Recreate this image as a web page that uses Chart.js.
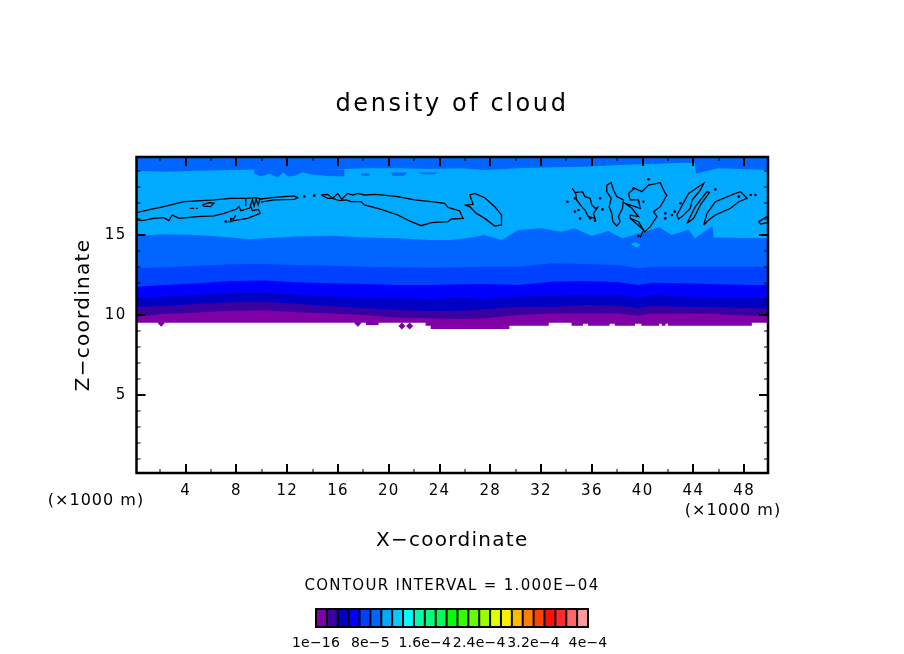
<!DOCTYPE html>
<html>
<head>
<meta charset="utf-8">
<style>
  html, body { margin: 0; background: #fff; }
  canvas { display: block; }
</style>
<script src="https://cdn.jsdelivr.net/npm/chart.js@4/dist/chart.umd.min.js"></script>
</head>
<body>
<canvas id="chart" width="904" height="654"></canvas>
<script>
// x ticks and z ticks (x1000 m)
const xTicks = [2,4,6,8,10,12,14,16,18,20,22,24,26,28,30,32,34,36,38,40,42,44,46,48];
const xLabelled = [4,8,12,16,20,24,28,32,36,40,44,48];
const zTicks = [1,2,3,4,5,6,7,8,9,10,11,12,13,14,15,16,17,18,19];
const zLabelled = [5,10,15];

// Band boundaries, km along x
const stationsKm = [0.125,2.3,4.9,7.6,10.2,12.8,15.5,18.1,20.7,23.3,25.7,27.5,30.2,32.8,35.4,38.1,39.7,40.7,43.3,46,48.6,49.875];
const purpleTop = [9.90,10.06,10.15,10.27,10.29,10.17,10.10,10.0,9.83,9.79,9.75,9.79,10.0,10.1,10.1,10.1,9.96,10.1,10.1,10.04,9.96,9.96];
const violetTop = [10.52,10.56,10.69,10.79,10.83,10.69,10.56,10.42,10.31,10.25,10.27,10.35,10.52,10.52,10.63,10.58,10.42,10.58,10.52,10.48,10.42,10.42];
const darkBlueTop = [11.04,11.15,11.25,11.40,11.42,11.25,11.15,11.04,11.04,11.0,11.1,11.0,11.15,11.21,11.25,11.25,11.04,11.25,11.15,11.08,11.08,11.04];
const blueTop = [11.77,11.88,11.98,12.12,12.15,12.04,11.98,11.94,11.88,11.88,11.92,11.94,11.88,12.08,12.12,12.04,11.88,12.02,11.98,11.92,11.88,11.88];
const midBlueTop = [12.92,12.98,13.08,13.17,13.19,13.13,13.08,13.02,12.98,12.96,12.98,13.02,13.02,13.23,13.19,13.13,12.92,13.02,13.02,13.02,13.02,13.02];

const azureLowX = [0.125,2.3,4.9,7.6,9,10.2,12.8,15.5,18.1,20.7,23.3,24.9,26.5,27.5,28.9,30.2,32,33.6,34.6,36,37.3,38.4,39.7,41.3,42.3,43.6,44.1,45.5,45.6,49.875];
const azureLowZ = [14.94,15.04,15.0,14.85,14.73,14.79,14.9,14.96,14.85,14.79,14.69,14.69,14.85,15.0,14.69,15.31,15.42,15.21,15.42,14.94,15.25,14.79,15.10,15.48,15.0,15.35,14.79,15.56,14.85,14.79];
const azureTopX = [0.125,2.3,4.9,7.6,10.2,12.8,15.5,18.1,20.7,23.3,25.7,27.5,30.2,32.8,35.4,38.1,40.7,43.3,44.1,44.2,46,49.875];
const azureTopZ = [19.02,18.96,19.02,19.06,19.1,19.1,19.1,19.17,19.17,19.12,19.17,19.06,19.17,19.23,19.27,19.37,19.44,19.52,19.48,18.85,19.17,19.06];

// Lower edge of the cloud, holds each value until the next x
const bottomX = [0.125,18.2,19.2,22.9,23.3,29.5,32.6,34.4,35.3,35.7,37.4,37.8,39.4,39.9,41.3,41.5,41.8,42.0,48.6,49.875];
const bottomZ = [9.52,9.37,9.52,9.33,9.12,9.33,9.52,9.33,9.45,9.33,9.45,9.33,9.45,9.33,9.45,9.33,9.45,9.33,9.52,9.52];
const strayPurple = [[2.07,9.48],[17.56,9.48],[21.03,9.31],[21.64,9.31]];

// Loose patches
const patchTopA = [[9.39,19.06],[10.18,19.17],[16.5,19.10],[16.5,18.65],[15.2,18.68],[13.87,18.78],[13.2,18.92],[12.6,18.7],[12.03,18.65],[11.7,18.9],[11.24,18.60],[10.6,18.85],[9.92,18.65],[9.39,18.85],[9.39,19.06]];
const patchTopB = [[17.82,18.85],[18.48,18.85],[18.48,18.7],[17.82,18.7],[17.82,18.85]];
const patchTopC = [[20.19,18.9],[21.5,18.9],[21.2,18.7],[20.3,18.7],[20.19,18.9]];
const patchTopD = [[22.3,18.9],[24.0,18.9],[23.6,18.8],[22.6,18.8],[22.3,18.9]];
const patchStreak = [[39.07,14.44],[39.41,14.56],[39.81,14.38],[39.54,14.21],[39.07,14.44]];

// Contour outlines, [km, z]
const lensTop = [[0.125,16.40],[1.23,16.60],[2.28,16.77],[3.86,17.08],[5.31,17.15],[6.23,17.19],[7.55,17.29],[8.73,17.29],[9.52,17.33],[9.92,17.25],[10.97,17.35],[12.55,17.44],[12.82,17.33],[12.55,17.23],[10.97,17.19],[9.92,17.06]];
const lensBottom = [[0.125,15.94],[0.57,15.90],[1.49,16.04],[2.28,16.08],[2.68,15.90],[2.94,16.25],[3.47,16.04],[4.92,16.15],[6.23,16.19],[7.02,16.35],[7.55,16.50],[7.95,16.60],[8.21,16.77],[8.34,16.52],[9,16.67],[9.13,16.77],[9.26,16.52],[9.74,16.60],[9.87,16.35],[8.87,16.04],[7.81,15.90],[7.50,15.83],[7.55,16.04],[7.76,15.98],[7.95,16.25]];
const spikeA = [[8.73,17.23],[8.73,16.81]];
const spikeB = [[9.08,16.81],[9.26,17.19],[9.39,16.81],[9.55,17.23],[9.71,16.88],[9.84,17.23]];
const loopSmall = [[5.31,16.88],[5.84,17.02],[6.23,16.98],[5.97,16.77],[5.44,16.81],[5.31,16.88]];
const dashA = [[4.34,16.67],[4.65,16.67]];
const dashB = [[4.79,16.67],[4.97,16.67]];
const lensRight = [[14.66,17.50],[15.19,17.54],[15.58,17.29],[15.98,17.60],[16.29,17.23],[16.76,17.60],[17.16,17.50],[17.56,17.60],[18.08,17.50],[19.0,17.54],[20.71,17.40],[22.03,17.19],[23.35,17.08],[24.40,16.98],[24.67,16.73],[25.59,16.50],[25.85,16.04],[24.93,16.0],[24.67,15.83],[23.35,15.77],[22.56,15.58],[21.77,15.83],[20.71,16.25],[19.40,16.60],[18.08,16.88],[17.82,17.08],[17.03,17.08],[16.63,17.19],[16.11,17.15],[15.58,17.29],[15.19,17.29],[14.66,17.50]];
const island = [[25.98,16.87],[26.64,16.92],[26.38,17.50],[26.77,17.60],[27.56,17.33],[28.35,16.77],[28.88,16.25],[28.88,15.63],[28.35,15.56],[27.56,16.04],[26.90,16.35],[26.38,16.77],[25.98,16.87]];
const clusterA = [[34.46,17.92],[34.67,17.65],[35.25,17.71],[35.46,17.40],[35.86,17.29],[35.99,16.88],[36.25,16.67],[36.46,16.73],[36.12,16.35],[36.25,16.04],[35.72,16.15],[35.46,16.56],[35.20,16.77],[34.80,17.19],[34.72,17.60],[34.46,17.92]];
const heartA = [[37.17,18.12],[37.52,18.27],[37.70,17.81],[37.96,17.40],[38.49,17.19],[38.41,16.67],[38.09,16.15],[38.23,15.83],[37.96,15.56],[37.65,15.83],[37.57,16.35],[37.36,16.77],[37.52,17.29],[37.17,17.71],[37.17,18.12]];
const heartB = [[38.88,17.60],[39.36,17.92],[39.94,17.71],[40.46,18.12],[41.39,18.27],[41.78,17.60],[41.91,17.50],[41.39,16.77],[40.86,16.46],[41.12,16.15],[40.60,15.52],[40.15,15.21],[39.67,15.83],[39.02,16.04],[39.02,16.25],[39.67,16.15],[39.15,16.67],[38.62,16.98],[39.81,16.67],[39.67,17.19],[39.02,17.19],[38.88,17.60]];
const heartTail = [[39.02,16.04],[40.07,15.31],[39.81,14.85]];
const streakA = [[42.70,16.25],[43.62,17.60],[44.81,18.23],[44.55,17.81],[43.89,17.19],[43.76,16.67],[43.10,16.15],[42.83,16.0],[42.70,16.25]];
const streakB = [[43.49,15.73],[44.15,16.77],[45.07,17.71],[45.26,17.65],[44.55,16.88],[44.02,16.04],[43.49,15.73]];
const streakC = [[44.81,15.63],[45.07,16.35],[45.73,17.08],[47.31,17.60],[47.71,17.71],[48.23,17.29],[47.57,17.08],[46.92,16.67],[45.73,16.25],[45.20,15.94],[44.81,15.63]];
const edgeRight = [[49.875,16.19],[49.55,16.04],[49.15,15.83],[49.29,15.69],[49.875,15.77]];
const contourDots = [[7.15,15.85],[13.34,17.40],[14.13,17.46],[34.07,17.08],[34.67,17.29],[34.67,16.46],[34.94,16.56],[35.07,16.04],[35.86,16.04],[36.25,15.90],[36.65,17.29],[36.83,16.60],[42.31,16.25],[42.52,16.46],[42.97,16.98],[41.78,16.35],[41.78,16.04],[45.73,17.85],[40.46,18.48],[39.28,17.92],[40.07,17.08],[48.50,17.50],[48.89,17.50],[47.57,17.40],[39.67,14.94]];
const contourLines = [lensTop,lensBottom,spikeA,spikeB,loopSmall,dashA,dashB,lensRight,island,clusterA,heartA,heartB,heartTail,streakA,streakB,streakC,edgeRight];

// Colour table, lowest level first
const levelColors = ["#7f00a5","#3a00a0","#0000c4","#0000ff","#0040ff","#0066ff","#00aaff","#00ccff","#00ffff","#00ffaa","#00ff80","#00ff55","#00ff00","#33ff00","#66ff00","#99ff00","#ddff00","#ffee00","#ffbb00","#ff8000","#ff4400","#ff1100","#ff2a2a","#ff6666","#ff9999"];
const barLabels = ["1e\u221216","8e\u22125","1.6e\u22124","2.4e\u22124","3.2e\u22124","4e\u22124"];

const toPoints = pairs => pairs.map(p => ({ x: p[0], y: p[1] }));
const zip = (xs, ys) => xs.map((x, i) => ({ x, y: ys[i] }));
const band = (data, color, stepped) => ({
    data, showLine: true, fill: "end", backgroundColor: color, borderWidth: 0,
    pointRadius: 0, stepped: stepped || false, tension: 0
});
const patch = (pairs, color) => ({
    data: toPoints(pairs), showLine: true, fill: "shape", backgroundColor: color,
    borderWidth: 0, pointRadius: 0
});

// First dataset is painted last
const datasets = [
    ...contourLines.map(c => ({ data: toPoints(c), showLine: true, fill: false, borderColor: "#000", borderWidth: 1.3, pointRadius: 0 })),
    { data: toPoints(contourDots), showLine: false, pointRadius: 1.3, pointBackgroundColor: "#000", pointBorderWidth: 0 },
    patch(patchTopA, levelColors[5]), patch(patchTopB, levelColors[5]), patch(patchTopC, levelColors[5]), patch(patchTopD, levelColors[5]),
    patch(patchStreak, levelColors[6]),
    band(zip(azureTopX, azureTopZ), levelColors[5]),
    band(zip(azureLowX, azureLowZ), levelColors[6]),
    band(zip(stationsKm, midBlueTop), levelColors[5]),
    band(zip(stationsKm, blueTop), levelColors[4]),
    band(zip(stationsKm, darkBlueTop), levelColors[3]),
    band(zip(stationsKm, violetTop), levelColors[2]),
    band(zip(stationsKm, purpleTop), levelColors[1]),
    { data: toPoints(strayPurple), showLine: false, pointStyle: "rectRot", pointRadius: 3.5, pointBackgroundColor: levelColors[0], pointBorderWidth: 0 },
    band(zip(bottomX, bottomZ), levelColors[0], "before")
];

const FONT = "'DejaVu Sans'";

// Letter spacing for the wide plotter look, plus inward ticks, frame and colour bar
const plotterLook = {
    id: "plotterLook",
    beforeDraw(chart) {
        const ctx = chart.ctx;
        ctx.letterSpacing = "1.3px";
        const tb = chart.titleBlock;
        if (!tb._spaced) {
            const draw = tb.draw;
            tb.draw = function () {
                ctx.letterSpacing = "2.6px";
                draw.call(tb);
                ctx.letterSpacing = "1.3px";
            };
            tb._spaced = true;
        }
    },
    afterDatasetsDraw(chart) {
        const { ctx, chartArea: a, scales: { x, y } } = chart;
        ctx.save();
        ctx.strokeStyle = "#000";
        xTicks.forEach(v => {
            const major = xLabelled.includes(v);
            const px = Math.round(x.getPixelForValue(v));
            ctx.lineWidth = major ? 2 : 1;
            const len = major ? 9 : 4;
            ctx.beginPath();
            ctx.moveTo(px, a.bottom); ctx.lineTo(px, a.bottom - len);
            ctx.moveTo(px, a.top); ctx.lineTo(px, a.top + len);
            ctx.stroke();
        });
        zTicks.forEach(v => {
            const major = zLabelled.includes(v);
            const py = Math.round(y.getPixelForValue(v));
            ctx.lineWidth = major ? 2 : 1;
            const len = major ? 9 : 4;
            ctx.beginPath();
            ctx.moveTo(a.left, py); ctx.lineTo(a.left + len, py);
            ctx.moveTo(a.right, py); ctx.lineTo(a.right - len, py);
            ctx.stroke();
        });
        ctx.lineWidth = 2.5;
        ctx.strokeRect(a.left, a.top, a.right - a.left, a.bottom - a.top);
        ctx.restore();
    },
    afterDraw(chart) {
        const ctx = chart.ctx;
        ctx.save();
        ctx.fillStyle = "#000";
        ctx.textBaseline = "middle";
        ctx.textAlign = "center";
        ctx.letterSpacing = "1px";
        ctx.font = "16px " + FONT;
        ctx.fillText("(\u00d71000 m)", 96, 501);
        ctx.fillText("(\u00d71000 m)", 733, 511);
        ctx.font = "15px " + FONT;
        ctx.letterSpacing = "1.3px";
        ctx.fillText("CONTOUR INTERVAL = 1.000E\u221204", 452, 586);

        // colour bar
        const left = 316, top = 609, cell = 272 / levelColors.length, h = 18;
        levelColors.forEach((c, i) => {
            ctx.fillStyle = c;
            ctx.fillRect(left + i * cell, top, cell, h);
        });
        ctx.strokeStyle = "#000";
        ctx.lineWidth = 2;
        levelColors.forEach((c, i) => {
            ctx.beginPath();
            ctx.moveTo(left + i * cell, top); ctx.lineTo(left + i * cell, top + h);
            ctx.stroke();
        });
        ctx.strokeRect(left, top, 272, h);

        ctx.fillStyle = "#000";
        ctx.font = "14px " + FONT;
        ctx.letterSpacing = "0.2px";
        barLabels.forEach((t, i) => ctx.fillText(t, left + i * cell * 5, 643));
        ctx.restore();
    }
};

new Chart(document.getElementById("chart"), {
    type: "scatter",
    data: { datasets },
    plugins: [plotterLook],
    options: {
        responsive: false,
        animation: false,
        devicePixelRatio: 1,
        layout: { padding: { left: 72, right: 72, top: 0, bottom: 101 } },
        plugins: {
            legend: { display: false },
            tooltip: { enabled: false },
            title: {
                display: true,
                text: "density of cloud",
                color: "#000",
                font: { family: FONT, size: 24, weight: "normal" },
                padding: { top: 90, bottom: 38.2 }
            }
        },
        scales: {
            x: {
                type: "linear", min: 0.125, max: 49.875,
                grid: { display: false, drawTicks: false },
                border: { display: false },
                afterBuildTicks: s => { s.ticks = xTicks.map(v => ({ value: v })); },
                afterFit: s => { s.height = 80; },
                ticks: {
                    autoSkip: false, maxRotation: 0, padding: 9, color: "#000",
                    font: { family: FONT, size: 15 },
                    callback: v => xLabelled.includes(v) ? String(v) : ""
                },
                title: { display: true, text: "X\u2212coordinate", color: "#000", padding: 0, font: { family: FONT, size: 20 } }
            },
            y: {
                type: "linear", min: 0.125, max: 19.875,
                grid: { display: false, drawTicks: false },
                border: { display: false },
                afterBuildTicks: s => { s.ticks = zTicks.map(v => ({ value: v })); },
                afterFit: s => { s.width = 64.5; },
                ticks: {
                    autoSkip: false, padding: 10, color: "#000",
                    font: { family: FONT, size: 15 },
                    callback: v => zLabelled.includes(v) ? String(v) : ""
                },
                title: { display: true, text: "Z\u2212coordinate", color: "#000", padding: 0, font: { family: FONT, size: 20 } }
            },
            // empty right axis, it only balances the left one so the title centres on the page
            yBalance: {
                type: "linear", position: "right", min: 0, max: 1,
                grid: { display: false, drawTicks: false },
                border: { display: false },
                ticks: { display: false },
                afterFit: s => { s.width = 64; }
            }
        }
    }
});
</script>
</body>
</html>
